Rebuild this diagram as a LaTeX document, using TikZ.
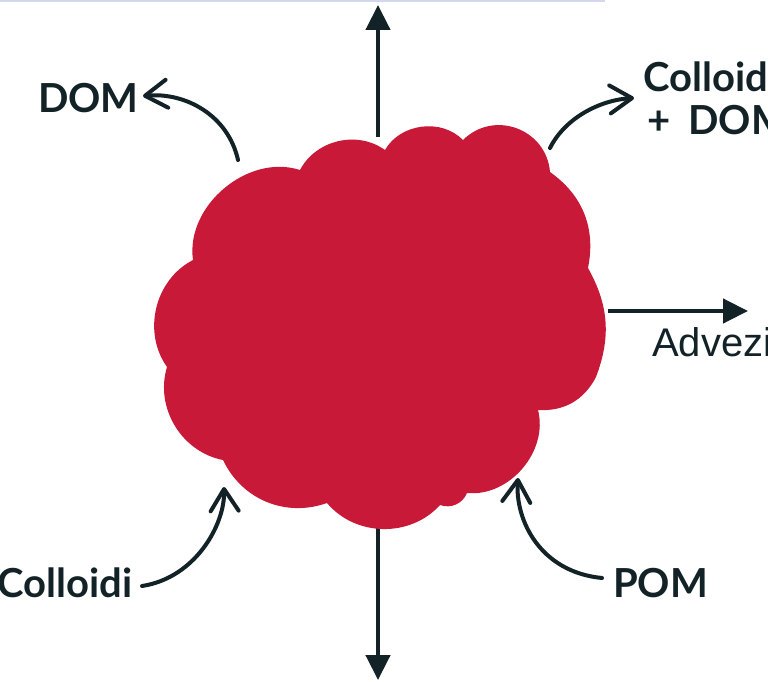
\documentclass[tikz,border=0pt]{standalone}
\usepackage{fontspec}
\setmainfont{Liberation Sans}
\newfontfamily\handfont{Lato}
\usetikzlibrary{arrows.meta}
\definecolor{blobred}{RGB}{200,25,57}
\definecolor{ink}{RGB}{18,34,38}
\definecolor{rim}{RGB}{214,214,240}
\tikzset{
  flow/.style={ink, line width=4.5pt, -{Triangle[length=25pt,width=24pt]}},
  curly/.style={ink, line width=4pt, line cap=round, -{Straight Barb[length=22pt,width=28pt,round]}},
  hand/.style={ink, font=\handfont\bfseries\fontsize{40}{43}\selectfont, inner sep=0pt, anchor=base west},
  bump/.style={bend left=#1},
}
\begin{document}
\begin{tikzpicture}[x=1pt, y=1pt]
  \useasboundingbox (0,0) rectangle (768,-682);
  \clip (0,0) rectangle (768,-682);
  \fill[white] (0,0) rectangle (768,-682);
  \draw[rim, line width=2pt] (0,-1) -- (605,-1);

  \coordinate (uptail) at (378,-137);
  \coordinate (uptip) at (378,-5);
  \coordinate (downtail) at (378,-500);
  \coordinate (downtip) at (378,-680);
  \coordinate (righttail) at (608,-311);
  \coordinate (righttip) at (748,-311);
  \coordinate (domfoot) at (238,-160);
  \coordinate (domtip) at (143,-96);
  \coordinate (cdfoot) at (550,-148);
  \coordinate (cdtip) at (634,-98);
  \coordinate (coltail) at (142,-586);
  \coordinate (coltip) at (224,-487);
  \coordinate (pomtail) at (602,-578);
  \coordinate (pomtip) at (518,-478);

  \draw[flow] (uptail) -- (uptip);
  \draw[flow] (downtail) -- (downtip);
  \draw[flow] (righttail) -- (righttip);

  \fill[blobred] (193,-260) to[bump=58] (300,-170) to[bump=49] (385,-150)
    to[bump=53] (463,-140) to[bump=65, looseness=1.2] (550,-172) to[bump=33] (588,-268)
    to[bump=25] (596,-377) to[bump=33] (538,-410) to[bump=55] (467,-493)
    to[bump=44] (440,-505) to[bump=49] (327,-503) to[bump=42] (223,-460)
    to[bump=48] (167,-367) to[bump=49] (193,-260) -- cycle;

  \draw[curly] (domfoot) .. controls (228,-115) and (185,-92) .. (domtip);
  \draw[curly] (cdfoot) .. controls (565,-118) and (600,-100) .. (cdtip);
  \draw[curly] (coltail) .. controls (195,-578) and (225,-525) .. (coltip);
  \draw[curly] (pomtail) .. controls (540,-572) and (515,-520) .. (pomtip);

  \node[hand] (dom) at (38,-113) {DOM};
  \node[hand, align=left, anchor=north west] (colldom) at (643,-62) {Colloidi\\\hspace{4pt}+\hspace{18pt}DOM};
  \node[ink, font=\fontsize{40}{40}\selectfont, inner sep=0pt, anchor=base west] (advez) at (652,-356) {Advezione};
  \node[hand] (colloidi) at (-3,-597) {Colloidi};
  \node[hand] (pom) at (613,-597) {POM};
\end{tikzpicture}
\end{document}
